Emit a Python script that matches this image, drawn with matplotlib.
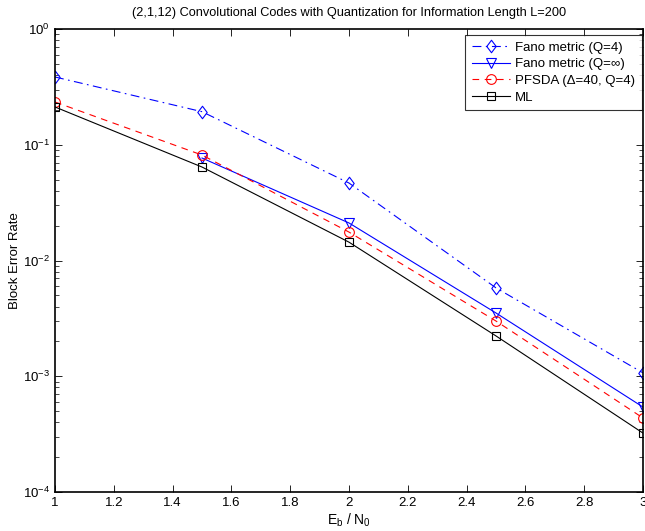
import matplotlib
matplotlib.use("Agg")
import matplotlib.pyplot as plt
from matplotlib.path import Path
from matplotlib.ticker import LogLocator, FixedLocator, FormatStrFormatter, NullFormatter

plt.rcParams['font.family'] = ['Liberation Sans', 'DejaVu Sans']
plt.rcParams['mathtext.fontset'] = 'custom'
plt.rcParams['mathtext.rm'] = 'Liberation Sans'
plt.rcParams['mathtext.it'] = 'Liberation Sans'

# Eb/N0 values
snr = [1.0, 1.5, 2.0, 2.5, 3.0]
snr_inf = [1.5, 2.0, 2.5, 3.0]

# Block error rates
fano_q4 = [0.385, 0.193, 0.0467, 0.0058, 0.00107]
fano_qinf = [0.0768, 0.0211, 0.00352, 0.000542]
pfsda = [0.234, 0.0815, 0.0176, 0.0030, 0.000436]
ml = [0.212, 0.0642, 0.0144, 0.00223, 0.000323]

labels = ['Fano metric (Q=4)', 'Fano metric (Q=\u221e)',
          'PFSDA (\u0394=40, Q=4)', 'ML']
xticks = [1, 1.2, 1.4, 1.6, 1.8, 2, 2.2, 2.4, 2.6, 2.8, 3]

# slightly narrow diamond marker
diamond = Path([(0, 1), (0.75, 0), (0, -1), (-0.75, 0), (0, 1)],
               [Path.MOVETO, Path.LINETO, Path.LINETO, Path.LINETO, Path.CLOSEPOLY])

fig = plt.figure(figsize=(6.45, 5.31), dpi=100)
ax = fig.add_axes([0.0853, 0.0734, 0.9116, 0.872])

ax.semilogy(snr, fano_q4, color='#0000ff', linestyle=(0, (8, 4, 1.5, 4)), lw=0.8,
            marker=diamond, markersize=9, mfc='none', mew=0.8, label=labels[0])
ax.semilogy(snr_inf, fano_qinf, color='#0000ff', linestyle='-', lw=0.8,
            marker='v', markersize=7, mfc='none', mew=0.8, label=labels[1])
ax.semilogy(snr, pfsda, color='#ff0000', linestyle=(0, (6, 5)), lw=0.8,
            marker='o', markersize=7, mfc='none', mew=0.8, label=labels[2])
ax.semilogy(snr, ml, color='black', linestyle='-', lw=0.8,
            marker='s', markersize=6, mfc='none', mew=0.8, label=labels[3])

ax.set_xlim(1, 3)
ax.set_ylim(1e-4, 1)
ax.xaxis.set_major_locator(FixedLocator(xticks))
ax.xaxis.set_major_formatter(FormatStrFormatter('%g'))
ax.yaxis.set_major_locator(LogLocator(base=10, numticks=10))
ax.yaxis.set_minor_locator(LogLocator(base=10, subs=range(2, 10), numticks=10))
ax.yaxis.set_minor_formatter(NullFormatter())

ax.tick_params(which='both', direction='in', top=True, right=True, labelsize=9.5)
ax.tick_params(which='major', length=5, width=0.6)
ax.tick_params(which='minor', length=3, width=0.5)
for s in ax.spines.values():
    s.set_linewidth(1.2)

ax.set_title('(2,1,12) Convolutional Codes with Quantization for Information Length L=200',
             fontsize=9.2, pad=9)
ax.set_xlabel(r'E$_\mathregular{b}$ / N$_\mathregular{0}$', fontsize=10, labelpad=2)
ax.set_ylabel('Block Error Rate', fontsize=9.5)
ax.yaxis.set_label_coords(-0.058, 0.5)

leg = ax.legend(loc='upper right', bbox_to_anchor=(0.998, 0.987), fontsize=9.5,
                frameon=True, fancybox=False, borderaxespad=0.0,
                handlelength=2.9, labelspacing=0.33, borderpad=0.5,
                handletextpad=0.4)
leg.get_frame().set_edgecolor('black')
leg.get_frame().set_linewidth(0.8)

fig.savefig('out.png', dpi=100)
